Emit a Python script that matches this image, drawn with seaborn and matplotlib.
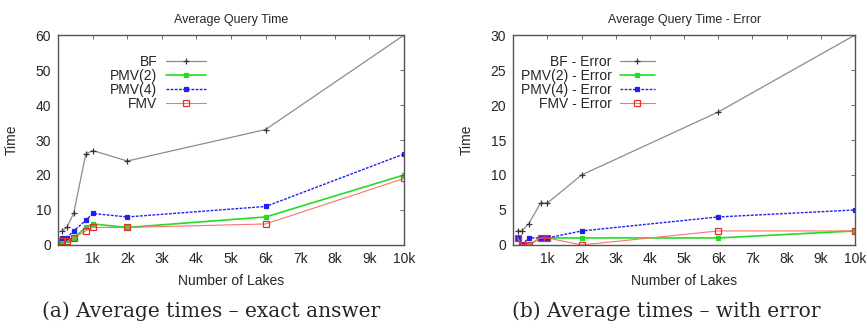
import matplotlib
matplotlib.use("Agg")
import matplotlib.pyplot as plt
import seaborn as sns
import pandas as pd

# number of lakes (x values)
lakes = [125, 250, 450, 800, 1000, 2000, 6000, 10000]

# exact answer times
bf = [4, 5, 9, 26, 27, 24, 33, 60]
pmv2 = [1, 1.5, 2, 5, 6, 5, 8, 20]
pmv4 = [2, 2, 4, 7, 9, 8, 11, 26]
fmv = [1, 1, 2, 4, 5, 5, 6, 19]

# with error
bf_err = [2, 2, 3, 6, 6, 10, 19, 30]
pmv2_err = [1, 0, 0, 1, 1, 1, 1, 2]
pmv4_err = [1, 0, 1, 1, 1, 2, 4, 5]
fmv_err = [1, 0, 0, 1, 1, 0, 2, 2]

xticks = [1000, 2000, 3000, 4000, 5000, 6000, 7000, 8000, 9000, 10000]
xticklabels = ["1k", "2k", "3k", "4k", "5k", "6k", "7k", "8k", "9k", "10k"]

sns.set_style("white")
plt.rcParams['font.family'] = ['Liberation Sans', 'DejaVu Sans']

# line styles per series: color, linestyle, marker, marker face, size, width
styles = [
    dict(color="#8c8c8c", ls="-", marker="+", mfc="#333333", mec="#333333", ms=4, lw=0.9),
    dict(color="#22dd22", ls="-", marker="s", mfc="#22dd22", mec="#22dd22", ms=2.5, lw=1.2),
    dict(color="#1f1fee", ls=(0, (2, 1)), marker="s", mfc="#1f1fee", mec="#1f1fee", ms=3, lw=1.0),
    dict(color="#ff7070", ls="-", marker="s", mfc="none", mec="#e03030", ms=4, lw=0.8),
]

fig = plt.figure(figsize=(8.67, 3.31), dpi=100)
ax1 = fig.add_axes([0.067, 0.26, 0.399, 0.634])
ax2 = fig.add_axes([0.592, 0.26, 0.394, 0.634])


def draw(ax, series, labels, title, ymax, ystep, anchor_x, hlen):
    for vals, lab, st in zip(series, labels, styles):
        df = pd.DataFrame({"lakes": lakes, "time": vals})
        sns.lineplot(data=df, x="lakes", y="time", ax=ax, label=lab,
                     color=st["color"], linestyle=st["ls"], linewidth=st["lw"],
                     marker=st["marker"], markersize=st["ms"],
                     markerfacecolor=st["mfc"], markeredgecolor=st["mec"],
                     markeredgewidth=0.9)
    ax.set_xlim(0, 10000)
    ax.set_ylim(0, ymax)
    ax.set_xticks(xticks)
    ax.set_xticklabels(xticklabels)
    ax.set_yticks(range(0, ymax + 1, ystep))
    ax.tick_params(direction="in", top=True, right=True, length=3,
                   width=0.6, labelsize=10, pad=5, color="#555555")
    for sp in ax.spines.values():
        sp.set_color("#555555")
        sp.set_linewidth(1.0)
    ax.set_title(title, fontsize=9, pad=9)
    ax.set_xlabel("Number of Lakes", fontsize=10, labelpad=6)
    ax.set_ylabel("Time", fontsize=10, labelpad=12)
    leg = ax.legend(loc="upper right", bbox_to_anchor=(anchor_x, 0.93), frameon=False,
                    markerfirst=False, fontsize=10, handlelength=hlen,
                    handletextpad=0.6, labelspacing=0.0, borderaxespad=0)
    return leg


leg1 = draw(ax1, [bf, pmv2, pmv4, fmv], ["BF", "PMV(2)", "PMV(4)", "FMV"],
            "Average Query Time", 60, 10, 0.443, 2.9)
leg2 = draw(ax2, [bf_err, pmv2_err, pmv4_err, fmv_err],
            ["BF - Error", "PMV(2) - Error", "PMV(4) - Error", "FMV - Error"],
            "Average Query Time - Error", 30, 5, 0.43, 2.5)

# right-align legend labels like gnuplot
for leg in (leg1, leg2):
    leg._legend_box.align = "right"
    for vp in leg._legend_box.get_children()[1].get_children():
        vp.align = "right"

fig.text(0.243, 0.06, "(a) Average times \u2013 exact answer", fontsize=14.5,
         family=["DejaVu Serif"], ha="center", va="center")
fig.text(0.768, 0.06, "(b) Average times \u2013 with error", fontsize=14.5,
         family=["DejaVu Serif"], ha="center", va="center")

plt.savefig("out.png", dpi=100)
